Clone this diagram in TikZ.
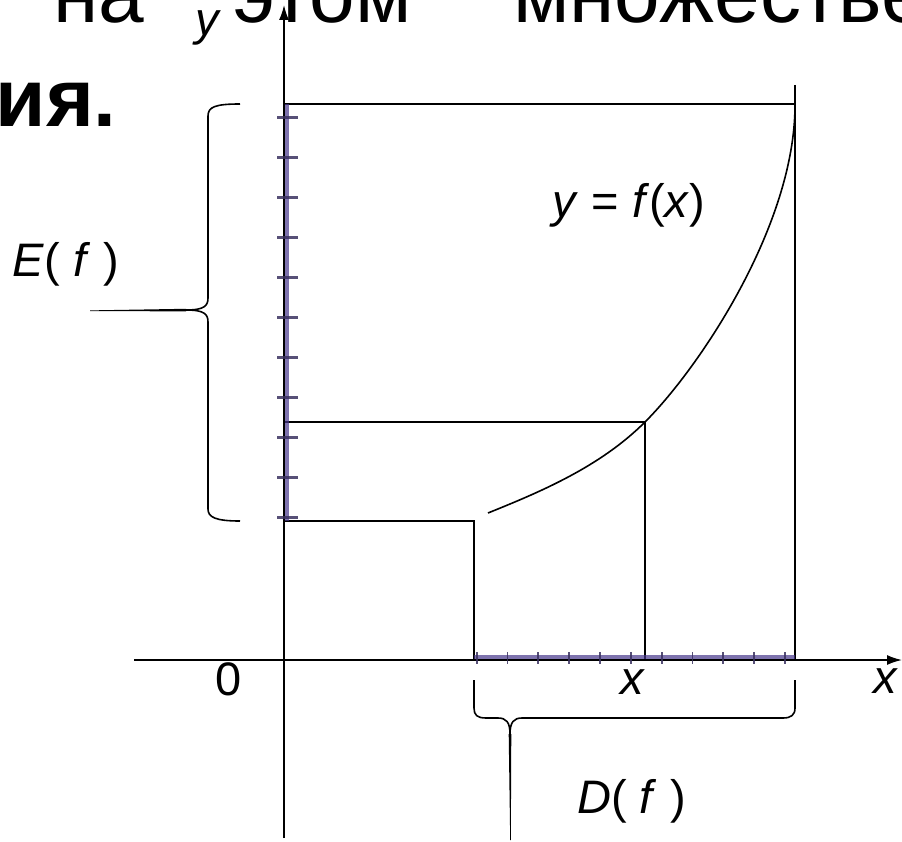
\documentclass[tikz,border=0pt]{standalone}
\usepackage{fontspec}
\setmainfont{Liberation Sans}
\usetikzlibrary{arrows.meta}
\definecolor{segblue}{RGB}{72,56,140}
\definecolor{tickcol}{RGB}{58,50,96}
\begin{document}
\begin{tikzpicture}[x=1pt,y=-1pt,
  line/.style={line width=1.6pt,black},
  axisline/.style={line width=1.6pt,black,-{Latex[length=15pt,width=10pt]}},
  seg/.style={line width=4.5pt,segblue,opacity=0.7},
  ytick/.style={line width=3pt,tickcol,opacity=0.85},
  xtick/.style={line width=1.8pt,tickcol,opacity=0.85},
  brace/.style={line width=1.6pt,black,line join=round},
  lbl/.style={inner sep=0pt,anchor=base,font=\fontsize{47}{56}\selectfont},
  big/.style={inner sep=0pt,font=\fontsize{82}{98}\selectfont}]
\useasboundingbox (0,0) rectangle (902,842);
\fill[white] (0,0) rectangle (902,842);

% heading text (cut off by the page)
\begin{scope}
\clip (0,0) rectangle (902,842);
\node[big,anchor=base west] (w1) at (53,23) {на};
\node[big,anchor=base west] (w2) at (233,23) {этом};
\node[big,anchor=base west] (w3) at (513,23) {множестве};
\node[big,anchor=base east,font=\fontsize{82}{98}\selectfont\bfseries] (w4) at (117,127) {ия.};
\end{scope}

% coordinates
\coordinate (ybot) at (284,838);
\coordinate (ytop) at (284,5);
\coordinate (xl) at (134,660);
\coordinate (xr) at (902,660);
\coordinate (A) at (284,104);
\coordinate (B) at (795,104);
\coordinate (Rt) at (795,85);
\coordinate (Rb) at (795,660);
\coordinate (M1) at (284,422);
\coordinate (M2) at (645,422);
\coordinate (M3) at (645,660);
\coordinate (S1) at (284,521);
\coordinate (S2) at (474,521);
\coordinate (S3) at (474,660);
\coordinate (C0) at (488,513);
\coordinate (C3) at (795,105);

% axes
\draw[axisline] (ybot) -- (ytop);
\draw[axisline] (xl) -- (xr);

% rectangles
\draw[line] (A) -- (B);
\draw[line] (Rt) -- (Rb);
\draw[line] (M1) -- (M2) -- (M3);
\draw[line] (S1) -- (S2) -- (S3);

% graph
\draw[line] (C0) .. controls (540,492) and (600,467) .. (M2)
  .. controls (700,367) and (795,225) .. (C3);

% highlighted segments with ticks
\coordinate (Ea) at (287,104);
\coordinate (Eb) at (287,521);
\draw[seg] (Ea) -- (Eb);
\foreach \k in {0,...,10}{
  \draw[ytick] (277,{117.3+40*\k}) -- (298,{117.3+40*\k});
}
\coordinate (Da) at (474,657);
\coordinate (Db) at (795,657);
\draw[seg,line width=4pt] (Da) -- (Db);
\foreach \k in {0,...,10}{
  \draw[xtick] ({476.7+30.83*\k},652) -- ({476.7+30.83*\k},664);
}

% left brace
\draw[brace] (240,104) .. controls (215,104) and (208,107) .. (208,116)
  -- (208,298) .. controls (208,306) and (204,310) .. (186,310)
  .. controls (204,310) and (208,314) .. (208,322)
  -- (208,509) .. controls (208,517) and (215,521) .. (240,521);
\fill (186,308.8) -- (90,310.4) -- (90,311.0) -- (186,311.4) -- cycle;

% bottom brace
\draw[brace] (474,680) -- (474,708) .. controls (474,715) and (477,718) .. (486,718)
  -- (498,718) .. controls (506,718) and (510,722) .. (510,734)
  .. controls (510,722) and (514,718) .. (522,718)
  -- (783,718) .. controls (791,718) and (795,715) .. (795,708) -- (795,680);
\fill (508.7,734) -- (510.2,840) -- (510.8,840) -- (511.3,734) -- cycle;

% labels
\node[lbl] (ly) at (207,36) {\itshape y};
\node[lbl] (l0) at (228.5,695) {0};
\node[lbl] (lx) at (632.5,694) {\itshape x};
\node[lbl] (lX) at (885,693) {\itshape x};
\node[lbl] (lf) at (629,218) {\textit{y} = \textit{f}(\textit{x})};
\node[lbl] (lE) at (66,277) {\textit{E}( \textit{f} )};
\node[lbl] (lD) at (631.5,813) {\textit{D}( \textit{f} )};
\end{tikzpicture}
\end{document}
